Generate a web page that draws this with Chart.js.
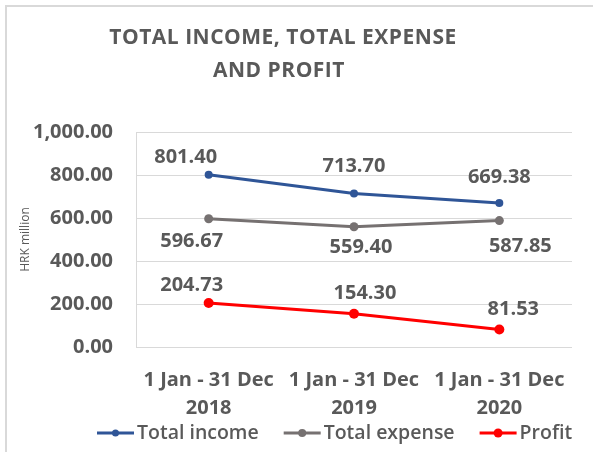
<!DOCTYPE html>
<html>
<head>
<meta charset="utf-8">
<script src="https://cdn.jsdelivr.net/npm/chart.js@4.4.0/dist/chart.umd.min.js"></script>
<style>
  html, body { margin: 0; padding: 0; background: #fff; }
  #wrap { width: 593px; height: 452px; position: relative; }
</style>
</head>
<body>
<div id="wrap"><canvas id="chart"></canvas></div>
<script>
const periods = [['1 Jan - 31 Dec', '2018'], ['1 Jan - 31 Dec', '2019'], ['1 Jan - 31 Dec', '2020']];
const totalIncome = [801.40, 713.70, 669.38];
const totalExpense = [596.67, 559.40, 587.85];
const profit = [204.73, 154.30, 81.53];
const yTicks = [0, 200, 400, 600, 800, 1000];
const titleLines = ['TOTAL INCOME, TOTAL EXPENSE', 'AND PROFIT'];

const grey = '#595959';
const fontFam = '"Open Sans", sans-serif';

// nudges of the value labels, like excel put them (dx, dy from the point)
const labelShift = [
    [[-23, -17], [0, -27], [0, -26]],
    [[-17, 23], [7, 21], [21, 26]],
    [[-17, -18], [11, -21], [14, -20]]
];

const marcoYTitulo = {
    id: 'marcoYTitulo',
    beforeDraw(chart) {
        const ctx = chart.ctx;
        ctx.save();
        ctx.strokeStyle = '#d9d9d9';
        ctx.lineWidth = 2;
        ctx.beginPath();
        ctx.moveTo(6, chart.height);
        ctx.lineTo(6, 6);
        ctx.lineTo(chart.width, 6);
        ctx.stroke();
        ctx.restore();
    },
    afterDraw(chart) {
        const ctx = chart.ctx;
        ctx.save();
        ctx.fillStyle = grey;
        ctx.font = 'bold 21px ' + fontFam;
        ctx.letterSpacing = '0.5px';
        ctx.textAlign = 'center';
        ctx.textBaseline = 'middle';
        ctx.fillText(titleLines[0], 283, 38);
        ctx.fillText(titleLines[1], 279, 71);
        ctx.restore();
    }
};

const etiquetas = {
    id: 'etiquetas',
    afterDatasetsDraw(chart) {
        const ctx = chart.ctx;
        ctx.save();
        ctx.fillStyle = grey;
        ctx.font = 'bold 20px ' + fontFam;
        ctx.textAlign = 'center';
        ctx.textBaseline = 'middle';
        chart.data.datasets.forEach((ds, i) => {
            chart.getDatasetMeta(i).data.forEach((pt, j) => {
                const s = labelShift[i][j];
                ctx.fillText(ds.data[j].toFixed(2), pt.x + s[0], pt.y + s[1]);
            });
        });
        ctx.restore();
    }
};

// leyenda tipo excel: linea con marcador y texto pegado
const leyenda = {
    id: 'leyenda',
    afterDraw(chart) {
        const ctx = chart.ctx;
        const y = 433;
        let x = 97;
        ctx.save();
        ctx.font = '600 19.5px ' + fontFam;
        ctx.textBaseline = 'middle';
        chart.data.datasets.forEach((ds) => {
            ctx.strokeStyle = ds.borderColor;
            ctx.lineWidth = 3;
            ctx.beginPath();
            ctx.moveTo(x, y);
            ctx.lineTo(x + 37, y);
            ctx.stroke();
            ctx.fillStyle = ds.borderColor;
            ctx.beginPath();
            ctx.arc(x + 18.5, y, ds.pointRadius - 0.5, 0, Math.PI * 2);
            ctx.fill();
            ctx.fillStyle = grey;
            ctx.fillText(ds.label, x + 40, y);
            x += 40 + ctx.measureText(ds.label).width + 25;
        });
        ctx.restore();
    }
};

new Chart(document.getElementById('chart'), {
    type: 'line',
    plugins: [marcoYTitulo, etiquetas, leyenda],
    data: {
        labels: periods,
        datasets: [
            {
                label: 'Total income',
                data: totalIncome,
                borderColor: '#2F5597',
                backgroundColor: '#2F5597',
                borderWidth: 3,
                pointRadius: 4,
                pointBorderWidth: 0
            }, {
                label: 'Total expense',
                data: totalExpense,
                borderColor: '#767171',
                backgroundColor: '#767171',
                borderWidth: 3,
                pointRadius: 4.5,
                pointBorderWidth: 0
            }, {
                label: 'Profit',
                data: profit,
                borderColor: '#FF0000',
                backgroundColor: '#FF0000',
                borderWidth: 3,
                pointRadius: 5,
                pointBorderWidth: 0
            }
        ]
    },
    options: {
        responsive: true,
        maintainAspectRatio: false,
        animation: false,
        layout: {
            padding: { left: 8, right: 21, top: 132, bottom: 29 }
        },
        scales: {
            x: {
                offset: true,
                grid: { display: false },
                border: { display: false },
                afterFit: (s) => { s.height = 76; },
                ticks: {
                    color: grey,
                    padding: 11,
                    maxRotation: 0,
                    font: { family: fontFam, size: 20, weight: 'bold', lineHeight: 1.4 }
                }
            },
            y: {
                min: 0,
                max: 1000,
                afterBuildTicks: (s) => { s.ticks = yTicks.map(v => ({ value: v })); },
                afterFit: (s) => { s.width = 128; },
                grid: { color: '#d9d9d9', drawTicks: false },
                border: { display: true, color: '#d9d9d9' },
                ticks: {
                    color: grey,
                    padding: 23,
                    font: { family: fontFam, size: 20, weight: 'bold' },
                    callback: (v) => v.toLocaleString('en-US', { minimumFractionDigits: 2, maximumFractionDigits: 2 })
                },
                title: {
                    display: true,
                    text: 'HRK million',
                    color: grey,
                    padding: { top: 10, bottom: 0 },
                    font: { family: fontFam, size: 12 }
                }
            }
        },
        plugins: {
            title: { display: false },
            tooltip: { enabled: false },
            legend: { display: false }
        }
    }
});
</script>
</body>
</html>
